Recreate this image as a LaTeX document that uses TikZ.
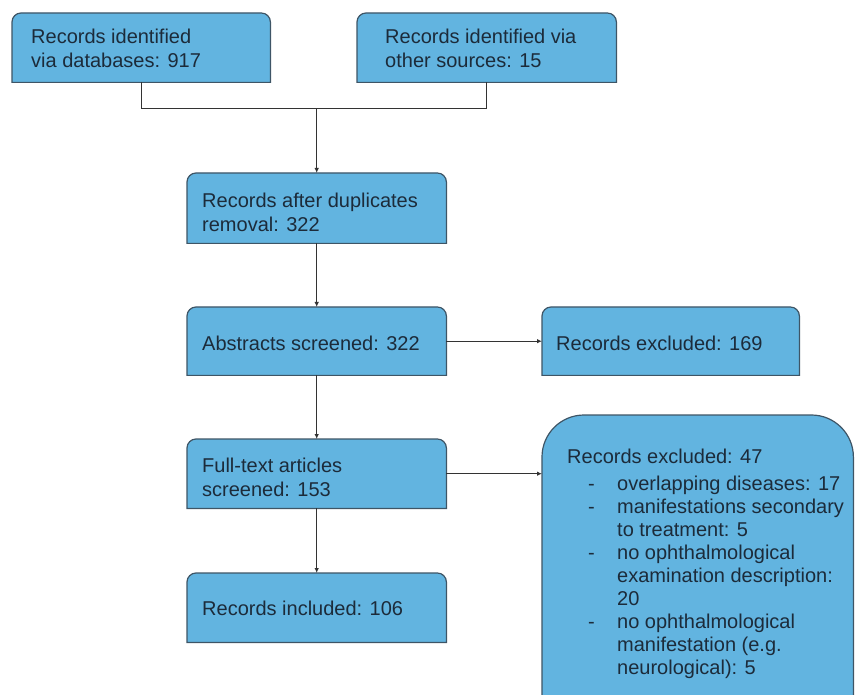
\documentclass[tikz,border=0pt]{standalone}
\usepackage{fontspec}
\setmainfont{Liberation Sans}
\usetikzlibrary{arrows.meta,backgrounds}
\definecolor{boxfill}{HTML}{62B4E0}
\definecolor{boxline}{HTML}{3E5566}
\definecolor{txtcol}{HTML}{1C2B3A}
\definecolor{linecol}{HTML}{333333}
\tikzset{
  boxnode/.style={draw=none,inner sep=0pt,anchor=north west},
  txt/.style={inner sep=0pt,anchor=north west,align=left,font=\fontsize{20pt}{24pt}\selectfont,text=txtcol},
  conn/.style={draw=linecol,line width=1pt},
  arr/.style={conn,-{Latex[length=5pt,width=4.5pt]}},
  boxshape/.style={fill=boxfill,draw=boxline,line width=1.2pt}
}
\newcommand\topbox[2]{%
  \begin{pgfonlayer}{background}
  \path[boxshape] (#1.south west) -- ([yshift=-#2]#1.north west)
    arc[start angle=180,end angle=90,radius=#2]
    -- ([xshift=-#2]#1.north east)
    arc[start angle=90,end angle=0,radius=#2]
    -- (#1.south east) -- cycle;
  \end{pgfonlayer}}
\newcommand\itemdash{\makebox[50pt][l]{\hspace*{21pt}-}}
\begin{document}
\begin{tikzpicture}[x=1pt,y=-1pt]
\useasboundingbox (0,0) rectangle (855,695);
% boxes
\node[boxnode,minimum width=258pt,minimum height=69pt] (b1) at (12,13) {};
\node[boxnode,minimum width=259pt,minimum height=69pt] (b2) at (357,13) {};
\node[boxnode,minimum width=259pt,minimum height=70pt] (b3) at (187,173) {};
\node[boxnode,minimum width=259pt,minimum height=68pt] (b4) at (187,307) {};
\node[boxnode,minimum width=257pt,minimum height=68pt] (e1) at (542,307) {};
\node[boxnode,minimum width=259pt,minimum height=69pt] (b5) at (187,439) {};
\node[boxnode,minimum width=259pt,minimum height=69pt] (b6) at (187,573) {};
\node[boxnode,minimum width=311pt,minimum height=285pt] (bx) at (542,415) {};
\topbox{b1}{9pt}
\topbox{b2}{9pt}
\topbox{b3}{9pt}
\topbox{b4}{9pt}
\topbox{e1}{9pt}
\topbox{b5}{9pt}
\topbox{b6}{9pt}
\topbox{bx}{42pt}
% texts
\node[txt] (t1) at (31,28.4) {Records identified\\via databases: 917};
\node[txt] (t2) at (385,28.4) {Records identified via\\other sources: 15};
\node[txt] (t3) at (202,192.4) {Records after duplicates\\removal: 322};
\node[txt] (t4) at (202,335.4) {Abstracts screened: 322};
\node[txt] (te1) at (556,335.4) {Records excluded: 169};
\node[txt] (t5) at (202,457.4) {Full-text articles\\screened: 153};
\node[txt] (t6) at (202,600.4) {Records included: 106};
\node[txt,font=\fontsize{20pt}{23pt}\selectfont] (tx) at (567,448.4) {Records excluded: 47\\[4pt]
\itemdash overlapping diseases: 17\\
\itemdash manifestations secondary\\
\hspace*{50pt}to treatment: 5\\
\itemdash no ophthalmological\\
\hspace*{50pt}examination description:\\
\hspace*{50pt}20\\
\itemdash no ophthalmological\\
\hspace*{50pt}manifestation (e.g.\\
\hspace*{50pt}neurological): 5};
% connectors
\coordinate (jy) at (0,109);
\draw[conn] (b1.south) -- (b1.south |- jy) -- (b2.south |- jy) -- (b2.south);
\draw[arr] (b3.north |- jy) -- (b3.north);
\draw[arr] (b3.south) -- (b4.north);
\draw[arr] (b4.east) -- (e1.west);
\draw[arr] (b4.south) -- (b5.north);
\draw[arr] (b5.east) -- (b5.east -| bx.west);
\draw[arr] (b5.south) -- (b6.north);
\end{tikzpicture}
\end{document}
